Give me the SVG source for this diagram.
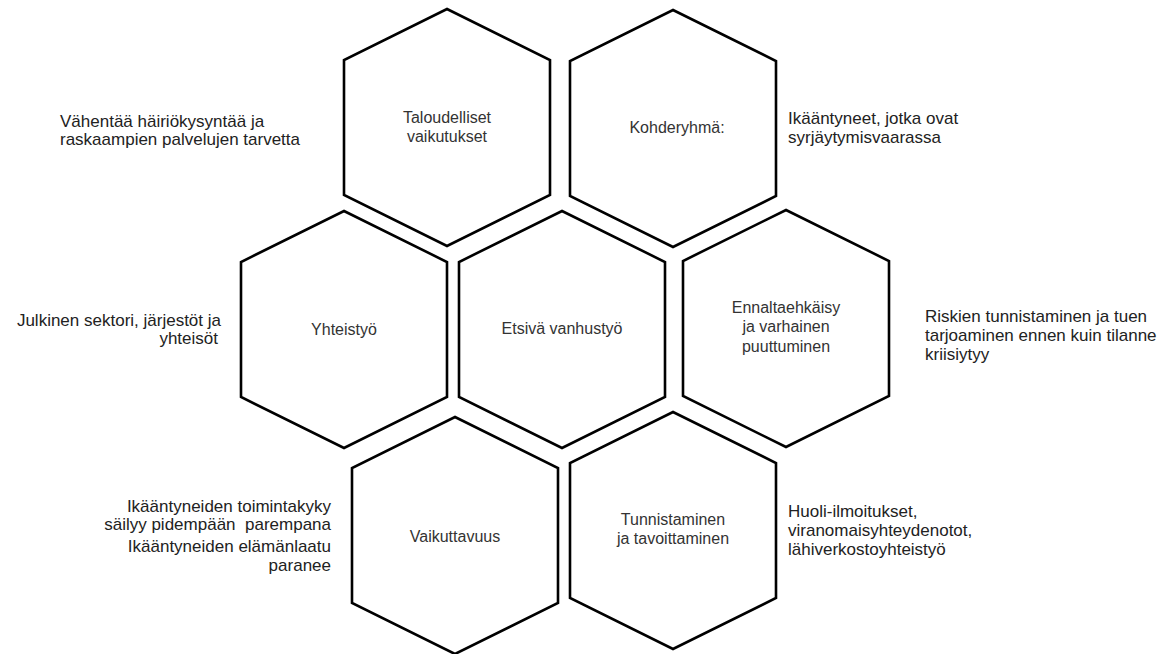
<svg xmlns="http://www.w3.org/2000/svg" width="1170" height="654" viewBox="0 0 1170 654">
<defs>
<polygon id="hex" points="0,0 103,51 103,186 0,237 -103,186 -103,51"/>
</defs>
<style>
.hx{fill:#fff;stroke:#000;stroke-width:2.6;stroke-linejoin:miter}
.t{font-family:"Liberation Sans",Arial,sans-serif;font-size:16px;fill:#333;text-anchor:middle}
.s{font-family:"Liberation Sans",Arial,sans-serif;font-size:17px;fill:#222}
.r{text-anchor:end}
</style>
<rect width="1170" height="654" fill="#fff"/>
<g id="n-taloudelliset">
<use href="#hex" class="hx" x="447" y="9"/>
<text class="t" x="447" y="123">Taloudelliset</text>
<text class="t" x="447" y="142">vaikutukset</text>
<text class="s" x="60" y="127">Vähentää häiriökysyntää ja</text>
<text class="s" x="60" y="145">raskaampien palvelujen tarvetta</text>
</g>
<g id="n-kohderyhma">
<use href="#hex" class="hx" x="673" y="10"/>
<text class="t" x="677" y="133">Kohderyhmä:</text>
<text class="s" x="788" y="124">Ikääntyneet, jotka ovat</text>
<text class="s" x="788" y="143">syrjäytymisvaarassa</text>
</g>
<g id="n-yhteistyo">
<use href="#hex" class="hx" x="344" y="211"/>
<text class="t" x="344" y="335">Yhteistyö</text>
<text class="s r" x="221" y="326">Julkinen sektori, järjestöt ja</text>
<text class="s r" x="218" y="344">yhteisöt</text>
</g>
<g id="n-etsiva">
<use href="#hex" class="hx" x="562" y="211"/>
<text class="t" x="562" y="334">Etsivä vanhustyö</text>
</g>
<g id="n-ennaltaehkaisy">
<use href="#hex" class="hx" x="786" y="210"/>
<text class="t" x="786" y="313">Ennaltaehkäisy</text>
<text class="t" x="786" y="332">ja varhainen</text>
<text class="t" x="786" y="352">puuttuminen</text>
<text class="s" x="925" y="322">Riskien tunnistaminen ja tuen</text>
<text class="s" x="925" y="341">tarjoaminen ennen kuin tilanne</text>
<text class="s" x="925" y="360">kriisiytyy</text>
</g>
<g id="n-vaikuttavuus">
<use href="#hex" class="hx" x="455" y="417"/>
<text class="t" x="455" y="542">Vaikuttavuus</text>
<text class="s r" x="331" y="512">Ikääntyneiden toimintakyky</text>
<text class="s r" x="331" y="530" xml:space="preserve">säilyy pidempään  parempana</text>
<text class="s r" x="331" y="552">Ikääntyneiden elämänlaatu</text>
<text class="s r" x="331" y="571">paranee</text>
</g>
<g id="n-tunnistaminen">
<use href="#hex" class="hx" x="673" y="412"/>
<text class="t" x="673" y="525">Tunnistaminen</text>
<text class="t" x="673" y="544">ja tavoittaminen</text>
<text class="s" x="788" y="517">Huoli-ilmoitukset,</text>
<text class="s" x="788" y="536">viranomaisyhteydenotot,</text>
<text class="s" x="788" y="555">lähiverkostoyhteistyö</text>
</g>
<g id="connectors"/>
</svg>
